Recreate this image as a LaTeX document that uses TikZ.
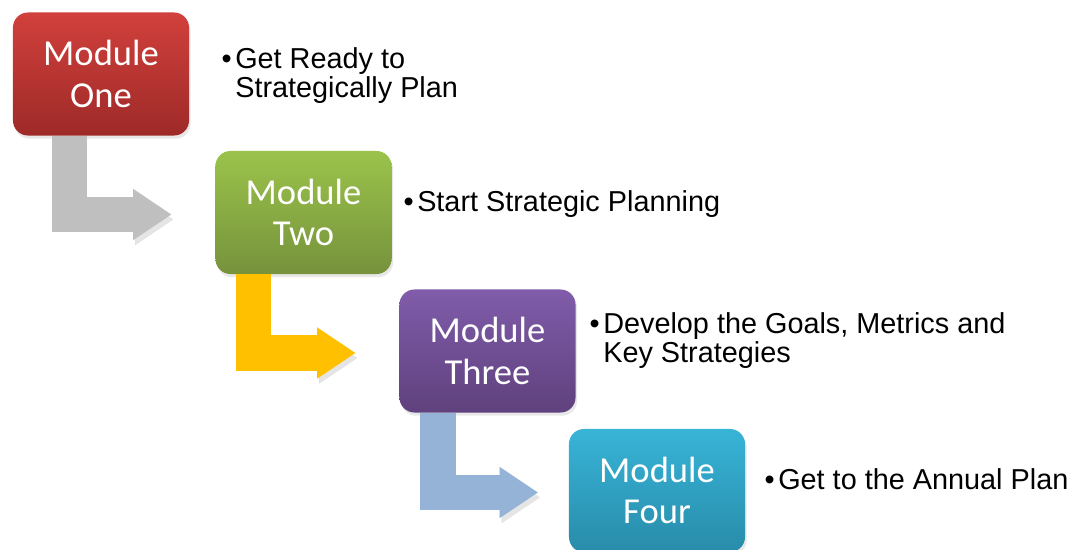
\documentclass[tikz,border=0pt]{standalone}
\usepackage{fontspec}
\setmainfont{Liberation Sans}
\newfontfamily\modfont{Carlito}
\usepackage{xcolor}
\usepackage{tikz}
\usetikzlibrary{arrows.meta, positioning, calc, shadows}
\definecolor{oneTop}{HTML}{D1403C}
\definecolor{oneBot}{HTML}{9E2A28}
\definecolor{twoTop}{HTML}{9BC34B}
\definecolor{twoBot}{HTML}{76923C}
\definecolor{threeTop}{HTML}{805CAA}
\definecolor{threeBot}{HTML}{5F417D}
\definecolor{fourTop}{HTML}{38B4D7}
\definecolor{fourBot}{HTML}{288CAA}
\definecolor{flowGray}{HTML}{BFBFBF}
\definecolor{flowGold}{HTML}{FFC000}
\definecolor{flowBlue}{HTML}{95B3D7}
\tikzset{
  module/.style={rounded corners=0.375cm, minimum width=4.4cm, minimum height=3.075cm,
    align=center, text=white, font=\modfont\fontsize{26}{29.5}\selectfont,
    drop shadow={opacity=0.18, shadow xshift=0.04cm, shadow yshift=-0.08cm}},
  note/.style={anchor=base west, inner sep=0pt, align=left,
    font=\fontsize{20.5}{21.3}\selectfont},
  flow/.style={line width=0.875cm, line join=miter,
    -{Triangle[length=0.95cm, width=1.275cm, line width=0.01pt]},
    preaction={draw=black, opacity=0.1, transform canvas={shift={(2,5)}}}}
}
\newcommand{\pt}{\llap{\textbullet\hspace{0.12em}}}

\begin{document}
\begin{tikzpicture}[x=0.025cm, y=-0.025cm]
        \useasboundingbox (0,0) rectangle (1074,550);

        % Modules
        \node[module, top color=oneTop, bottom color=oneBot]     (one)   at (101,  74)   {Module\\One};
        \node[module, top color=twoTop, bottom color=twoBot]     (two)   at (303.5,212.5) {Module\\Two};
        \node[module, top color=threeTop, bottom color=threeBot] (three) at (487.5,351)   {Module\\Three};
        \node[module, top color=fourTop, bottom color=fourBot]   (four)  at (657, 490.5)  {Module\\Four};

        % Notes (base is the last line)
        \node[note] (readyNote) at (235, 98)  {\pt Get Ready to\\Strategically Plan};
        \node[note] (startNote) at (417,212)  {\pt Start Strategic Planning};
        \node[note] (goalNote)  at (603,363)  {\pt Develop the Goals, Metrics and\\Key Strategies};
        \node[note] (planNote)  at (778,490)  {\pt Get to the Annual Plan};

        % Flow arrows
        \draw[flow, flowGray] ($(one.south)+(-31.5,0)$)   |- ($(two.west)+(-44,2)$);
        \draw[flow, flowGold] ($(two.south)+(-50,0)$)     |- ($(three.west)+(-44,2)$);
        \draw[flow, flowBlue] ($(three.south)+(-49.5,0)$) |- ($(four.west)+(-31,2)$);
    \end{tikzpicture}
\end{document}
